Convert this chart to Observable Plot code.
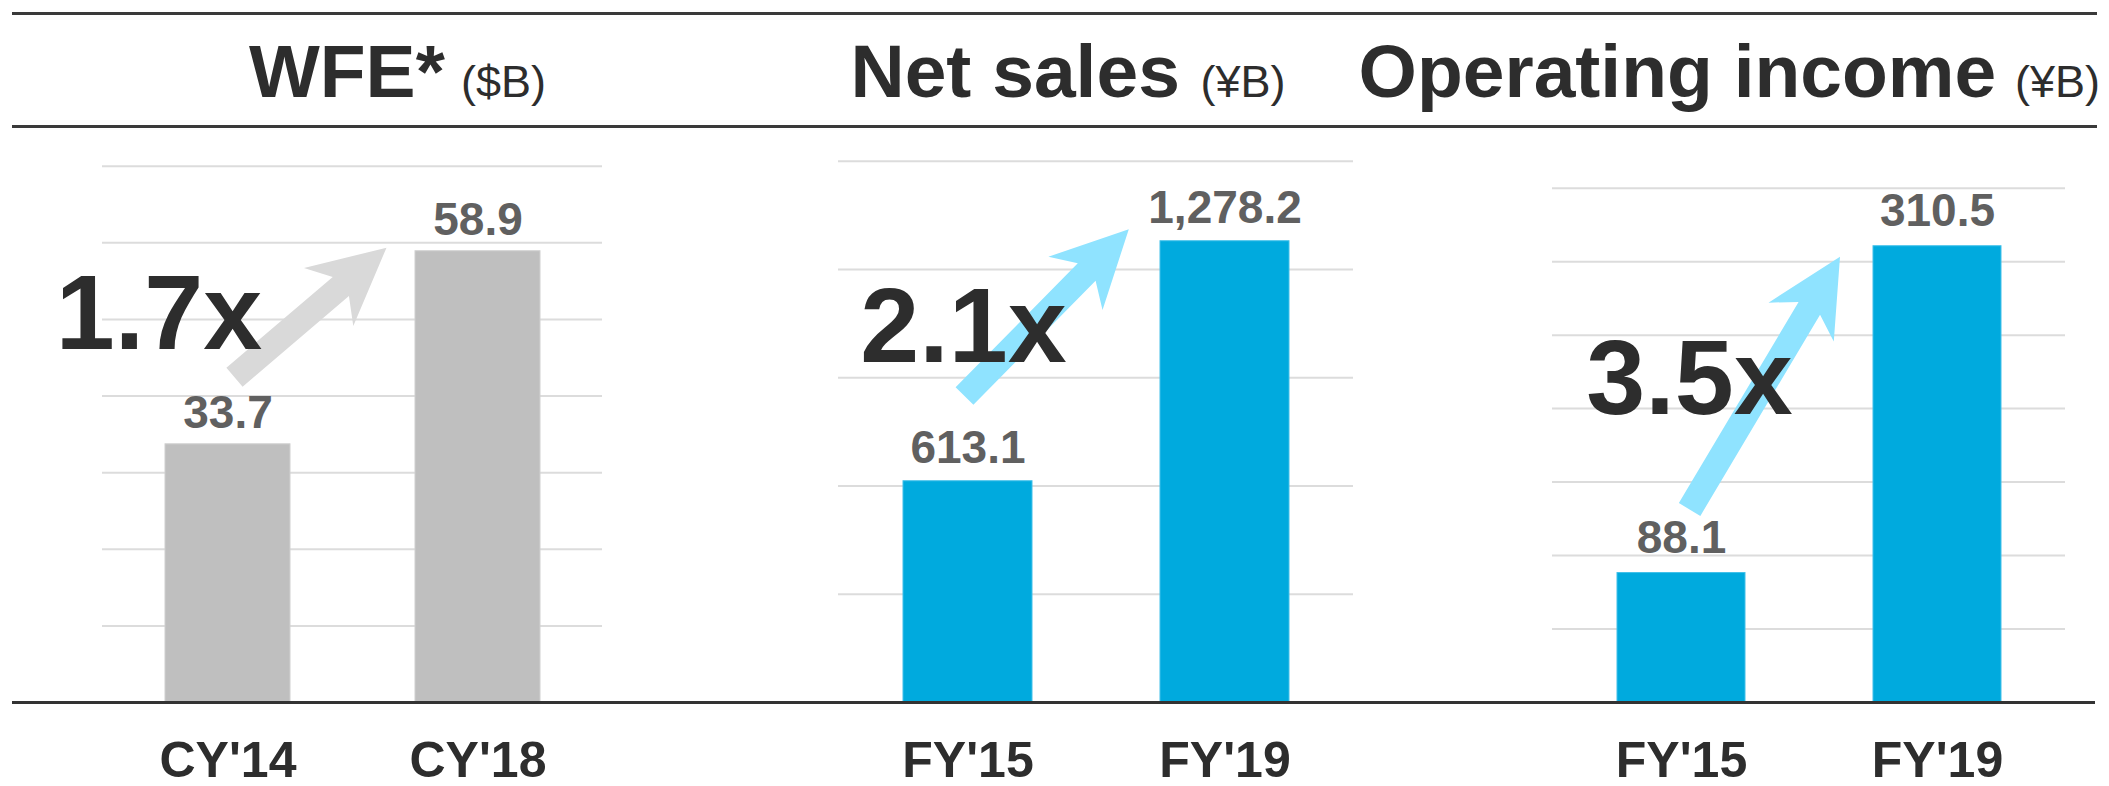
<!DOCTYPE html>
<html><head><meta charset="utf-8">
<script src="https://cdn.jsdelivr.net/npm/d3@7"></script>
<script src="https://cdn.jsdelivr.net/npm/@observablehq/plot@0.6"></script>
<style>
html,body{margin:0;padding:0;background:#fff;}
#root{position:relative;width:2109px;height:786px;overflow:hidden;font-family:"Liberation Sans",Arial,sans-serif;color:#2d2d2d;background:#fff;}
.hline{position:absolute;left:12px;width:2085px;height:3px;background:#3a3a3a;}
.t{position:absolute;white-space:nowrap;line-height:1;}
.big{font-size:75px;font-weight:bold;}
.unit{font-size:45px;font-weight:normal;}
.panel{position:absolute;top:130px;}
</style></head><body><div id="root"></div>
<script>
// ---- data ----
const wfeCategories = ["CY'14", "CY'18"];
const wfeValues = [33.7, 58.9];
const salesCategories = ["FY'15", "FY'19"];
const salesValues = [613.1, 1278.2];
const opCategories = ["FY'15", "FY'19"];
const opValues = [88.1, 310.5];
const wfeGrid = [0, 10, 20, 30, 40, 50, 60, 70];
const salesGrid = [0, 300, 600, 900, 1200, 1500];
const opGrid = [0, 50, 100, 150, 200, 250, 300, 350];
const multipliers = ["1.7x", "2.1x", "3.5x"];
const multiplierY = [46.2, 943, 196.5];
const arrowFrom = [42.4, 848, 131];
const arrowTo = [59.3, 1310, 303];
const titles = ["WFE*", "Net sales", "Operating income"];
const units = ["($B)", "(¥B)", "(¥B)"];

const root = document.getElementById("root");
const fmt = d3.format(",.1f");

// header rules & titles
for (const top of [11.5, 124.5]) {
  const d = document.createElement("div"); d.className = "hline"; d.style.top = top + "px"; root.appendChild(d);
}
const titlePos = [[249, 461], [850.5, 1200.5], [1358.6, 2015]];
titles.forEach((t, i) => {
  const a = document.createElement("div"); a.className = "t big"; a.textContent = t;
  a.style.left = titlePos[i][0] + "px"; a.style.top = "33.5px"; root.appendChild(a);
  const b = document.createElement("div"); b.className = "t unit"; b.textContent = units[i];
  b.style.left = titlePos[i][1] + "px"; b.style.top = "58.9px"; root.appendChild(b);
});

function arrowPath(tx, ty, px, py) {
  const dx = px - tx, dy = py - ty, len = Math.hypot(dx, dy), ux = dx / len, uy = dy / len, nx = -uy, ny = ux;
  const w = 12.5, J = 60, B = 76, H = 38;
  const pts = [[tx + nx*w, ty + ny*w], [px - ux*J + nx*w, py - uy*J + ny*w], [px - ux*B + nx*H, py - uy*B + ny*H],
    [px, py], [px - ux*B - nx*H, py - uy*B - ny*H], [px - ux*J - nx*w, py - uy*J - ny*w], [tx - nx*w, ty - ny*w]];
  return "M" + pts.map(p => p.join(",")).join("L") + "Z";
}

const panels = [
  {left: 0, width: 700, mL: 102, mR: 98, mT: 35.7, cats: wfeCategories, values: wfeValues, grid: wfeGrid, fill: "#bfbfbf", edge: "#d0d0d0", arrow: "#d9d9d9", i: 0, tailDx: 7, tipDx: -91, ratioDx: -69, labelDy: -16, ruleL: -90, ruleR: -98},
  {left: 700, width: 700, mL: 138, mR: 47, mT: 30.7, cats: salesCategories, values: salesValues, grid: salesGrid, fill: "#00aade", edge: "#40c0ea", arrow: "#8fe3ff", i: 1, tailDx: -3, tipDx: -95.7, ratioDx: -4.5, labelDy: -18, ruleL: -138, ruleR: -47},
  {left: 1400, width: 709, mL: 152, mR: 44, mT: 57.7, cats: opCategories, values: opValues, grid: opGrid, fill: "#00aade", edge: "#40c0ea", arrow: "#8fe3ff", i: 2, tailDx: 8.6, tipDx: -97, ratioDx: 8, labelDy: -20, ruleL: -152, ruleR: -30}
];

for (const p of panels) {
  const data = p.cats.map((c, k) => ({cat: c, value: p.values[k]}));
  const gmax = p.grid[p.grid.length - 1];
  const chart = Plot.plot({
    width: p.width, height: 656,
    marginLeft: p.mL, marginRight: p.mR, marginTop: p.mT, marginBottom: 84,
    style: {fontFamily: "'Liberation Sans', Arial, sans-serif", background: "transparent", overflow: "visible"},
    x: {domain: p.cats, paddingInner: 0.5, paddingOuter: 0.25},
    y: {domain: [0, gmax], axis: null},
    marks: [
      Plot.gridY(p.grid, {stroke: "#dcdcdc", strokeOpacity: 1, strokeWidth: 2}),
      Plot.barY(data, {x: "cat", y: "value", fill: p.fill, stroke: p.edge, strokeWidth: 1}),
      Plot.ruleY([0], {stroke: "#333333", strokeWidth: 3, insetLeft: p.ruleL, insetRight: p.ruleR}),
      (index, scales) => {
        const x = scales.x, y = scales.y, bw = x.bandwidth();
        const tx = x(p.cats[0]) + bw / 2 + p.tailDx, ty = y(arrowFrom[p.i]);
        const px = x(p.cats[1]) + bw / 2 + p.tipDx, py = y(arrowTo[p.i]);
        return d3.create("svg:path").attr("d", arrowPath(tx, ty, px, py)).attr("fill", p.arrow).node();
      },
      Plot.text(data, {x: "cat", y: "value", text: d => fmt(d.value), dy: p.labelDy, lineAnchor: "bottom",
        fontSize: 46, fontWeight: "bold", fill: "#606060"}),
      Plot.text([{cat: p.cats[0], y: multiplierY[p.i], t: multipliers[p.i]}], {x: "cat", y: "y", text: "t", dx: p.ratioDx,
        lineAnchor: "bottom", textAnchor: "middle", fontSize: 106, fontWeight: "bold", fill: "#2d2d2d"}),
      Plot.axisX({tickSize: 0, tickPadding: 38.5, fontSize: 50, fontWeight: "bold", color: "#2d2d2d", label: null})
    ]
  });
  chart.classList.add("panel");
  chart.style.left = p.left + "px";
  chart.style.position = "absolute";
  chart.style.top = "130px";
  root.appendChild(chart);
}
</script></body></html>
